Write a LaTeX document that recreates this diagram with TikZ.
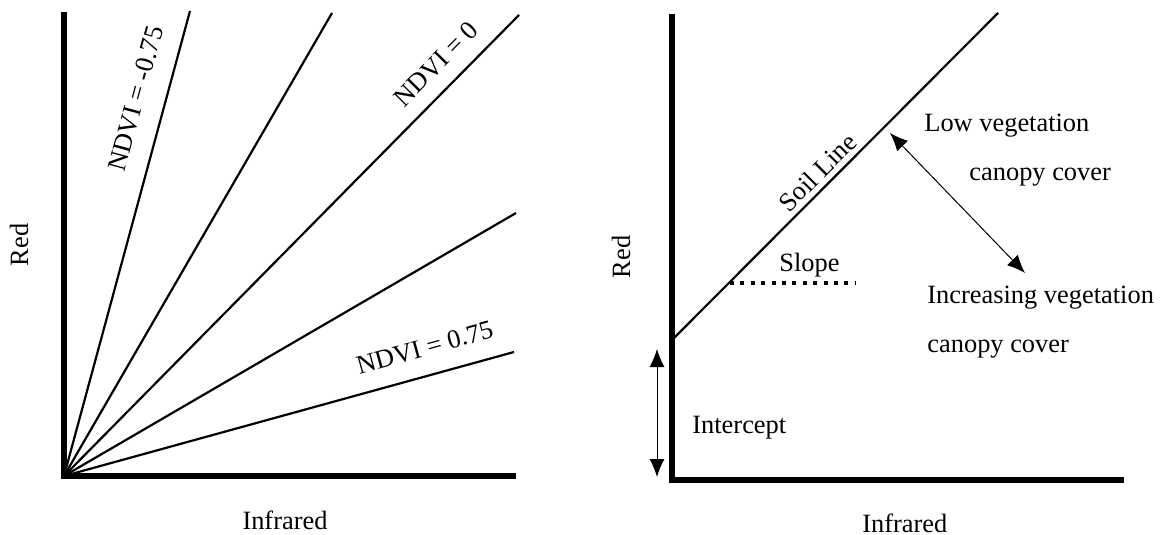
\documentclass[tikz,border=0pt]{standalone}
\usepackage{fontspec}
\setmainfont{Liberation Serif}
\usetikzlibrary{arrows.meta}

\begin{document}
\begin{tikzpicture}[x=0.5pt, y=-0.5pt,
      axis/.style={line width=2.6pt, line join=miter},
      fan/.style={line width=1.1pt},
      lbl/.style={font=\fontsize{13.2}{15}\selectfont, inner sep=1pt},
      >={Latex[length=9pt, width=7.5pt]}]
    \useasboundingbox (0,0) rectangle (1162,535);
    % Left: NDVI isolines
    \coordinate (O) at (64,476);
    \coordinate (Ytop) at (64,12);
    \coordinate (Xend) at (516,476);
    \coordinate (N1) at (190,11);
    \coordinate (N2) at (332,13);
    \coordinate (N3) at (519,15);
    \coordinate (N4) at (516,213);
    \coordinate (N5) at (514,352);
    \draw[axis] (Ytop) -- (O) -- (Xend);
    \draw[fan] (O) -- (N1) node[lbl, sloped, above=8.6pt, pos=0.795] (l1) {NDVI = -0.75};
    \draw[fan] (O) -- (N2);
    \draw[fan] (O) -- (N3) node[lbl, sloped, above=6.2pt, pos=0.856] (l3) {NDVI = 0};
    \draw[fan] (O) -- (N4);
    \draw[fan] (O) -- (N5) node[lbl, sloped, above=8pt, pos=0.818] (l5) {NDVI = 0.75};
    \node[lbl, rotate=90, anchor=base] (redL) at (28,245) {Red};
    \node[lbl, anchor=base] (irL) at (285,529) {Infrared};
    % Right: soil line
    \coordinate (S0) at (672,480);
    \coordinate (Stop) at (672,14);
    \coordinate (Send) at (1124,480);
    \coordinate (Icpt) at (672,340);
    \coordinate (Shi) at (998,13);
    \draw[axis] (Stop) -- (S0) -- (Send);
    \draw[fan] (Icpt) -- (Shi) node[lbl, sloped, above=1.5pt, pos=0.48] (soil) {Soil Line};
    % slope
    \coordinate (Sl1) at (730,283);
    \coordinate (Sl2) at (856,283);
    \draw[line width=2pt, dash pattern=on 2pt off 3.2pt] (Sl1) -- (Sl2);
    \node[lbl, anchor=base west] (slope) at (777,271) {Slope};
    % intercept
    \coordinate (Ia) at (657,349);
    \coordinate (Ib) at (657,477);
    \draw[<->, line width=0.5pt] (Ia) -- (Ib);
    \node[lbl, anchor=base west] (icpt) at (690,433) {Intercept};
    % vegetation cover
    \node[lbl, anchor=base west] (low1) at (922,132) {Low vegetation};
    \node[lbl, anchor=base west] (low2) at (967,180) {canopy cover};
    \node[lbl, anchor=base west] (inc1) at (925,303) {Increasing vegetation};
    \node[lbl, anchor=base west] (inc2) at (925,352) {canopy cover};
    \coordinate (Va) at (890,133);
    \coordinate (Vb) at (1025,273);
    \draw[<->, line width=0.5pt] (Va) -- (Vb);
    \node[lbl, rotate=90, anchor=base] (redR) at (630,257) {Red};
    \node[lbl, anchor=base west] (irR) at (860,532) {Infrared};
  \end{tikzpicture}
\end{document}
